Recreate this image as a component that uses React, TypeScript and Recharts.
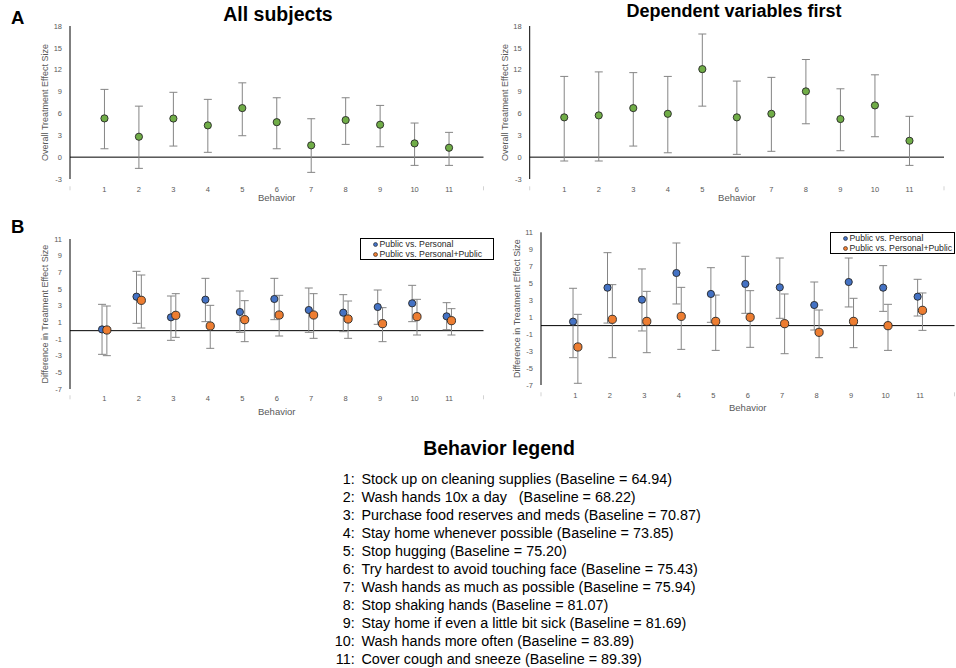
import { ScatterChart, Scatter, XAxis, YAxis, ErrorBar, ReferenceLine, Legend } from 'recharts';

const FONT = '"Liberation Sans", Arial, sans-serif';

// Behaviours on the x axis
const behaviors = [1, 2, 3, 4, 5, 6, 7, 8, 9, 10, 11];
const xTicks = [0, 1, 2, 3, 4, 5, 6, 7, 8, 9, 10, 11, 12];

// A: overall treatment effect, all subjects
const allValues = [5.32, 2.8, 5.3, 4.36, 6.73, 4.8, 1.62, 5.09, 4.45, 1.89, 1.29];
const allLower = [1.15, -1.54, 1.52, 0.66, 2.94, 1.15, -2.09, 1.75, 1.43, -1.13, -1.13];
const allUpper = [9.3, 7.0, 8.9, 7.93, 10.2, 8.15, 5.27, 8.15, 7.1, 4.68, 3.4];

// A: overall treatment effect, dependent variables first
const depValues = [5.46, 5.73, 6.73, 5.95, 12.08, 5.46, 5.95, 9.03, 5.23, 7.1, 2.25];
const depLower = [-0.53, -0.53, 1.52, 0.6, 7.0, 0.38, 0.8, 4.58, 0.88, 2.8, -1.13];
const depUpper = [11.08, 11.7, 11.6, 11.08, 16.9, 10.44, 10.95, 13.4, 9.38, 11.3, 5.6];

// B: differences, all subjects
const allPersonal = [0.15, 4.08, 1.6, 3.72, 2.24, 3.8, 2.48, 2.16, 2.84, 3.28, 1.72];
const allPersonalLo = [-2.84, 0.88, -1.16, 1.08, -0.2, 1.32, -0.2, -0.12, 0.76, 1.08, 0.12];
const allPersonalHi = [3.16, 7.12, 4.16, 6.28, 4.76, 6.28, 5.12, 4.32, 4.88, 5.44, 3.36];
const allBoth = [0.08, 3.64, 1.84, 0.56, 1.32, 1.88, 1.88, 1.4, 0.84, 1.68, 1.2];
const allBothLo = [-3.0, 0.32, -0.8, -2.12, -1.32, -0.64, -0.92, -0.92, -1.32, -0.52, -0.52];
const allBothHi = [2.96, 6.68, 4.44, 3.04, 3.6, 4.24, 4.44, 3.56, 2.76, 3.76, 2.64];

// B: differences, dependent variables first
const depPersonal = [0.47, 4.47, 3.06, 6.2, 3.73, 4.91, 4.51, 2.43, 5.14, 4.47, 3.41];
const depPersonalLo = [-3.78, 0.3, -0.63, 2.55, 0.39, 1.45, 0.86, -0.52, 2.2, 1.68, 1.13];
const depPersonalHi = [4.4, 8.6, 6.68, 9.74, 6.83, 8.17, 7.97, 5.14, 7.97, 7.07, 5.46];
const depBoth = [-2.52, 0.74, 0.5, 1.09, 0.5, 0.98, 0.23, -0.79, 0.5, -0.01, 1.8];
const depBothLo = [-6.8, -3.78, -3.19, -2.8, -2.92, -2.56, -3.31, -3.78, -2.6, -2.92, -0.56];
const depBothHi = [1.33, 4.83, 4.04, 4.51, 3.6, 4.12, 3.73, 1.84, 3.22, 2.51, 3.85];

const effectTicks = [-3, 0, 3, 6, 9, 12, 15, 18];
const diffTicks = [-7, -5, -3, -1, 1, 3, 5, 7, 9, 11];

const behaviorNames = [
  'Stock up on cleaning supplies',
  'Wash hands 10x a day  ',
  'Purchase food reserves and meds',
  'Stay home whenever possible',
  'Stop hugging',
  'Try hardest to avoid touching face',
  'Wash hands as much as possible',
  'Stop shaking hands',
  'Stay home if even a little bit sick',
  'Wash hands more often',
  'Cover cough and sneeze',
];
const baselines = ['64.94', '68.22', '70.87', '73.85', '75.20', '75.43', '75.94', '81.07', '81.69', '83.89', '89.39'];

const GREEN = '#70AD47';
const BLUE = '#4472C4';
const ORANGE = '#ED7D31';

const toPoints = (values: number[], lower: number[], upper: number[], shift = 0) =>
  behaviors.map((b, i) => ({
    x: b + shift,
    y: values[i],
    err: [values[i] - lower[i], upper[i] - values[i]],
  }));

interface Series {
  name: string;
  color: string;
  r: number;
  data: { x: number; y: number; err: number[] }[];
}

const XTick = ({ x, y, payload }: any) => {
  if (payload.value === 0 || payload.value === 12) {
    return <line x1={x} x2={x} y1={y} y2={y + 4} stroke="#c8c8c8" strokeWidth={0.8} />;
  }
  return (
    <text x={x} y={y} dy="0.71em" textAnchor="middle" fontSize={7.5} fill="#595959" fontFamily={FONT}>
      {payload.value}
    </text>
  );
};

const makeLegendBox = (w: number, h: number) => ({ payload }: any) => (
  <div
    style={{
      border: '1px solid #000',
      background: '#fff',
      boxSizing: 'border-box',
      width: w,
      height: h,
      padding: '0 0 0 12px',
      fontFamily: FONT,
      fontSize: 8.7,
      lineHeight: '10px',
      color: '#262626',
      overflow: 'hidden',
    }}
  >
    {(payload || []).map((entry: any) => (
      <div key={entry.value} style={{ display: 'flex', alignItems: 'center', height: 10, whiteSpace: 'nowrap' }}>
        <svg width={5} height={5} style={{ marginRight: 1.5, flex: 'none' }}>
          <circle cx={2.5} cy={2.5} r={2} fill={entry.color} stroke="#222" strokeWidth={0.6} />
        </svg>
        <span>{entry.value}</span>
      </div>
    ))}
  </div>
);

interface PanelProps {
  left: number;
  top: number;
  width: number;
  height: number;
  margin: { top: number; right: number; bottom: number; left: number };
  xAxisHeight: number;
  tickMargin: number;
  xLabelOffset: number;
  yLabelOffset: number;
  yDomain: number[];
  yTicks: number[];
  yLabel: string;
  series: Series[];
  legend?: { left: number; top: number; width: number; height: number };
}

const Panel = (p: PanelProps) => {
  const LegendBox = p.legend ? makeLegendBox(p.legend.width, p.legend.height) : null;
  return (
    <div style={{ position: 'absolute', left: p.left, top: p.top }}>
      <ScatterChart width={p.width} height={p.height} margin={p.margin}>
        <XAxis
          type="number"
          dataKey="x"
          domain={[0, 12]}
          ticks={xTicks}
          interval={0}
          axisLine={false}
          tickLine={false}
          tickMargin={p.tickMargin}
          tick={<XTick />}
          height={p.xAxisHeight}
          label={{
            value: 'Behavior',
            position: 'insideBottom',
            offset: p.xLabelOffset,
            style: { fontSize: 9.5, fill: '#595959', fontFamily: FONT },
          }}
        />
        <YAxis
          type="number"
          dataKey="y"
          domain={p.yDomain}
          ticks={p.yTicks}
          interval={0}
          width={30}
          allowDataOverflow
          axisLine={{ stroke: '#000', strokeWidth: 1 }}
          tickLine={false}
          tick={{ fontSize: 7.5, fill: '#595959', fontFamily: FONT }}
          label={{
            value: p.yLabel,
            angle: -90,
            position: 'insideLeft',
            offset: p.yLabelOffset,
            style: { textAnchor: 'middle', fontSize: 9, fill: '#595959', fontFamily: FONT },
          }}
        />
        <ReferenceLine y={0} stroke="#000" strokeWidth={1} />
        {p.series.map((s) => (
          <Scatter
            key={s.name}
            name={s.name}
            data={s.data}
            fill={s.color}
            isAnimationActive={false}
            shape={(props: any) => (
              <circle cx={props.cx} cy={props.cy} r={s.r} fill={s.color} stroke="#262626" strokeWidth={0.9} />
            )}
          >
            <ErrorBar dataKey="err" direction="y" width={4} stroke="#858585" strokeWidth={1} />
          </Scatter>
        ))}
        {p.legend && LegendBox && (
          <Legend
            layout="vertical"
            align="center"
            verticalAlign="middle"
            content={<LegendBox />}
            wrapperStyle={{ left: p.legend.left, top: p.legend.top, width: p.legend.width, height: p.legend.height, margin: 0, padding: 0 }}
          />
        )}
      </ScatterChart>
    </div>
  );
};

const App = () => {
  const allSeries: Series[] = [
    { name: 'Overall', color: GREEN, r: 3.6, data: toPoints(allValues, allLower, allUpper) },
  ];
  const depSeries: Series[] = [
    { name: 'Overall', color: GREEN, r: 3.6, data: toPoints(depValues, depLower, depUpper) },
  ];
  const allDiff: Series[] = [
    { name: 'Public vs. Personal', color: BLUE, r: 3.6, data: toPoints(allPersonal, allPersonalLo, allPersonalHi, -0.07) },
    { name: 'Public vs. Personal+Public', color: ORANGE, r: 4.1, data: toPoints(allBoth, allBothLo, allBothHi, 0.07) },
  ];
  const depDiff: Series[] = [
    { name: 'Public vs. Personal', color: BLUE, r: 3.6, data: toPoints(depPersonal, depPersonalLo, depPersonalHi, -0.07) },
    { name: 'Public vs. Personal+Public', color: ORANGE, r: 4.1, data: toPoints(depBoth, depBothLo, depBothHi, 0.07) },
  ];

  return (
    <div
      style={{
        position: 'absolute',
        left: 0,
        top: 0,
        width: 956,
        height: 668,
        background: '#fff',
        overflow: 'hidden',
        fontFamily: FONT,
      }}
    >
      <div style={{ position: 'absolute', left: 11, top: 7, fontSize: 18.5, fontWeight: 'bold' }}>A</div>
      <div style={{ position: 'absolute', left: 11, top: 216, fontSize: 18.5, fontWeight: 'bold' }}>B</div>
      <div style={{ position: 'absolute', left: 178, top: 3, width: 200, textAlign: 'center', fontSize: 19.5, fontWeight: 'bold' }}>
        All subjects
      </div>
      <div style={{ position: 'absolute', left: 584, top: 1, width: 300, textAlign: 'center', fontSize: 18, fontWeight: 'bold' }}>
        Dependent variables first
      </div>

      <Panel
        left={0}
        top={0}
        width={490}
        height={210}
        margin={{ top: 26, right: 6.5, left: 40, bottom: 6 }}
        xAxisHeight={25}
        tickMargin={1.3}
        xLabelOffset={2.6}
        yLabelOffset={5}
        yDomain={[-3, 18]}
        yTicks={effectTicks}
        yLabel="Overall Treatment Effect Size"
        series={allSeries}
      />
      <Panel
        left={478}
        top={0}
        width={478}
        height={210}
        margin={{ top: 26, right: 12, left: 21.7, bottom: 6 }}
        xAxisHeight={25}
        tickMargin={1.3}
        xLabelOffset={2.6}
        yLabelOffset={5.3}
        yDomain={[-3, 18]}
        yTicks={effectTicks}
        yLabel="Overall Treatment Effect Size"
        series={depSeries}
      />
      <Panel
        left={0}
        top={215}
        width={490}
        height={210}
        margin={{ top: 24, right: 6.5, left: 40, bottom: 8 }}
        xAxisHeight={28}
        tickMargin={0.3}
        xLabelOffset={2}
        yLabelOffset={5}
        yDomain={[-7, 11]}
        yTicks={diffTicks}
        yLabel="Difference in Treatment Effect Size"
        series={allDiff}
        legend={{ left: 360, top: 23, width: 134, height: 22 }}
      />
      <Panel
        left={490}
        top={215}
        width={466}
        height={210}
        margin={{ top: 17.3, right: 1.5, left: 21, bottom: 13 }}
        xAxisHeight={27}
        tickMargin={1.3}
        xLabelOffset={1}
        yLabelOffset={6}
        yDomain={[-7, 11]}
        yTicks={diffTicks}
        yLabel="Difference in Treatment Effect Size"
        series={depDiff}
        legend={{ left: 340, top: 17.3, width: 125, height: 22 }}
      />

      <div style={{ position: 'absolute', left: 349, top: 436, width: 300, textAlign: 'center', fontSize: 19.5, fontWeight: 'bold', lineHeight: '24px' }}>
        Behavior legend
      </div>
      {behaviorNames.map((name, i) => (
        <div
          key={name}
          style={{ position: 'absolute', left: 314.7, top: 470 + i * 18, fontSize: 14.35, lineHeight: '18px', whiteSpace: 'pre', color: '#000' }}
        >
          <span style={{ display: 'inline-block', width: 40, textAlign: 'right', marginRight: 6.8 }}>{behaviors[i]}:</span>
          {`${name} (Baseline = ${baselines[i]})`}
        </div>
      ))}
    </div>
  );
};

export default App;
